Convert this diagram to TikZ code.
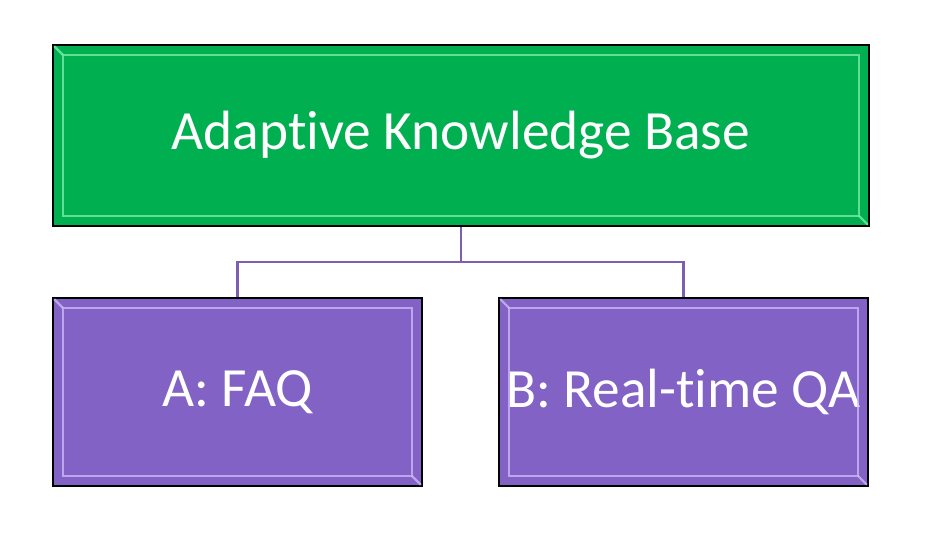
\documentclass[tikz,border=0pt]{standalone}
\usepackage{fontspec}
\setmainfont[Ligatures=NoCommon]{Carlito}
\usepackage{tikz}
\usetikzlibrary{positioning, calc}
\definecolor{kbgreen}{RGB}{0,176,80}
\definecolor{kbgreenlt}{RGB}{130,240,175}
\definecolor{kbpurple}{RGB}{130,98,196}
\definecolor{kbpurplelt}{RGB}{210,190,252}
\definecolor{kbline}{RGB}{125,95,178}
\tikzset{
  topbox/.style={rectangle, draw=black, fill=kbgreen, line width=1.2pt,
    minimum width=612pt, minimum height=135.75pt, text=white,
    font=\fontsize{41.5}{48}\selectfont, inner sep=0pt},
  subbox/.style={rectangle, draw=black, fill=kbpurple, line width=1.2pt,
    minimum width=276.75pt, minimum height=141pt, text=white,
    font=\fontsize{41.5}{48}\selectfont, inner sep=0pt},
  bevel/.style={line width=1.6pt, opacity=0.75},
  conn/.style={draw=kbline, line width=1.6pt}
}

\begin{document}
\begin{tikzpicture}[x=0.75pt, y=-0.75pt]
  \useasboundingbox[fill=white] (0,0) rectangle (930,534);

  % Top box
  \node[topbox] (kb) at (461,135.5) {Adaptive Knowledge Base};

  % Two sub boxes
  \node[subbox] (faq) at (237.5,392) {A: FAQ};
  \node[subbox] (qa) at (683.5,392) {B: Real-time QA};

  % Bevel edges
  \foreach \n/\c in {kb/kbgreenlt, faq/kbpurplelt, qa/kbpurplelt} {
    \draw[bevel, draw=\c] ([shift={(11,11)}]\n.north west) rectangle ([shift={(-11,-11)}]\n.south east);
    \draw[bevel, draw=\c] ([shift={(2,2)}]\n.north west) -- ([shift={(11,11)}]\n.north west);
    \draw[bevel, draw=\c] ([shift={(-2,-2)}]\n.south east) -- ([shift={(-11,-11)}]\n.south east);
  }

  % Connections
  \draw[conn] (kb.south) -- ++(0,35) -| (faq.north);
  \draw[conn] (kb.south) -- ++(0,35) -| (qa.north);
\end{tikzpicture}
\end{document}
